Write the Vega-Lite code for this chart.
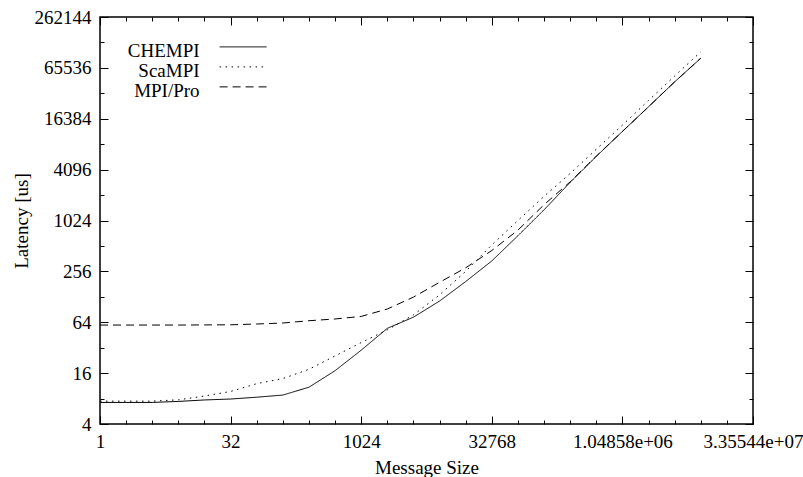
{
  "$schema": "https://vega.github.io/schema/vega-lite/v6.json",
  "width": 653,
  "height": 407,
  "autosize": {"type": "none"},
  "padding": {"left": 100, "top": 17, "right": 50, "bottom": 53},
  "background": "white",
  "data": {"values": [
    {"size": 1, "latency": 7.2, "impl": "CHEMPI"},
    {"size": 2, "latency": 7.2, "impl": "CHEMPI"},
    {"size": 4, "latency": 7.2, "impl": "CHEMPI"},
    {"size": 8, "latency": 7.4, "impl": "CHEMPI"},
    {"size": 16, "latency": 7.7, "impl": "CHEMPI"},
    {"size": 32, "latency": 7.9, "impl": "CHEMPI"},
    {"size": 64, "latency": 8.3, "impl": "CHEMPI"},
    {"size": 128, "latency": 8.8, "impl": "CHEMPI"},
    {"size": 256, "latency": 10.9, "impl": "CHEMPI"},
    {"size": 512, "latency": 17.1, "impl": "CHEMPI"},
    {"size": 1024, "latency": 29.9, "impl": "CHEMPI"},
    {"size": 2048, "latency": 54.2, "impl": "CHEMPI"},
    {"size": 4096, "latency": 73.5, "impl": "CHEMPI"},
    {"size": 8192, "latency": 114, "impl": "CHEMPI"},
    {"size": 16384, "latency": 194, "impl": "CHEMPI"},
    {"size": 32768, "latency": 340, "impl": "CHEMPI"},
    {"size": 65536, "latency": 676, "impl": "CHEMPI"},
    {"size": 131072, "latency": 1370, "impl": "CHEMPI"},
    {"size": 262144, "latency": 2896, "impl": "CHEMPI"},
    {"size": 524288, "latency": 5872, "impl": "CHEMPI"},
    {"size": 1048576, "latency": 11585, "impl": "CHEMPI"},
    {"size": 2097152, "latency": 22690, "impl": "CHEMPI"},
    {"size": 4194304, "latency": 44760, "impl": "CHEMPI"},
    {"size": 8388608, "latency": 85270, "impl": "CHEMPI"},
    {"size": 1, "latency": 7.46, "impl": "ScaMPI"},
    {"size": 2, "latency": 7.46, "impl": "ScaMPI"},
    {"size": 4, "latency": 7.46, "impl": "ScaMPI"},
    {"size": 8, "latency": 7.73, "impl": "ScaMPI"},
    {"size": 16, "latency": 8.57, "impl": "ScaMPI"},
    {"size": 32, "latency": 9.71, "impl": "ScaMPI"},
    {"size": 64, "latency": 12.0, "impl": "ScaMPI"},
    {"size": 128, "latency": 13.8, "impl": "ScaMPI"},
    {"size": 256, "latency": 17.75, "impl": "ScaMPI"},
    {"size": 512, "latency": 25.6, "impl": "ScaMPI"},
    {"size": 1024, "latency": 36.8, "impl": "ScaMPI"},
    {"size": 2048, "latency": 52, "impl": "ScaMPI"},
    {"size": 4096, "latency": 78.2, "impl": "ScaMPI"},
    {"size": 8192, "latency": 135, "impl": "ScaMPI"},
    {"size": 16384, "latency": 256, "impl": "ScaMPI"},
    {"size": 32768, "latency": 526, "impl": "ScaMPI"},
    {"size": 65536, "latency": 1024, "impl": "ScaMPI"},
    {"size": 131072, "latency": 1978, "impl": "ScaMPI"},
    {"size": 262144, "latency": 3691, "impl": "ScaMPI"},
    {"size": 524288, "latency": 7132, "impl": "ScaMPI"},
    {"size": 1048576, "latency": 13777, "impl": "ScaMPI"},
    {"size": 2097152, "latency": 26974, "impl": "ScaMPI"},
    {"size": 4194304, "latency": 52470, "impl": "ScaMPI"},
    {"size": 8388608, "latency": 101400, "impl": "ScaMPI"},
    {"size": 1, "latency": 59.3, "impl": "MPI/Pro"},
    {"size": 2, "latency": 59.3, "impl": "MPI/Pro"},
    {"size": 4, "latency": 59.3, "impl": "MPI/Pro"},
    {"size": 8, "latency": 59.3, "impl": "MPI/Pro"},
    {"size": 16, "latency": 59.5, "impl": "MPI/Pro"},
    {"size": 32, "latency": 59.7, "impl": "MPI/Pro"},
    {"size": 64, "latency": 61, "impl": "MPI/Pro"},
    {"size": 128, "latency": 62.7, "impl": "MPI/Pro"},
    {"size": 256, "latency": 66.7, "impl": "MPI/Pro"},
    {"size": 512, "latency": 70, "impl": "MPI/Pro"},
    {"size": 1024, "latency": 75, "impl": "MPI/Pro"},
    {"size": 2048, "latency": 91.8, "impl": "MPI/Pro"},
    {"size": 4096, "latency": 127, "impl": "MPI/Pro"},
    {"size": 8192, "latency": 190, "impl": "MPI/Pro"},
    {"size": 16384, "latency": 282, "impl": "MPI/Pro"},
    {"size": 32768, "latency": 452, "impl": "MPI/Pro"},
    {"size": 65536, "latency": 787, "impl": "MPI/Pro"},
    {"size": 131072, "latency": 1574, "impl": "MPI/Pro"},
    {"size": 262144, "latency": 2936, "impl": "MPI/Pro"},
    {"size": 524288, "latency": 5913, "impl": "MPI/Pro"},
    {"size": 1048576, "latency": 11585, "impl": "MPI/Pro"},
    {"size": 2097152, "latency": 22690, "impl": "MPI/Pro"},
    {"size": 4194304, "latency": 44760, "impl": "MPI/Pro"},
    {"size": 8388608, "latency": 85270, "impl": "MPI/Pro"}
  ]},
  "resolve": {"axis": {"x": "independent", "y": "independent"}},
  "layer": [
    {
      "mark": {"type": "line", "color": "black", "strokeWidth": 1, "clip": true},
      "encoding": {
        "x": {"field": "size", "type": "quantitative",
          "scale": {"type": "log", "base": 2, "domain": [1, 33554432], "nice": false},
          "axis": {"orient": "bottom", "values": [1, 32, 1024, 32768, 1048576, 33554432], "tickSize": -8, "labelPadding": 16, "title": "Message Size", "titlePadding": 7,
            "labelExpr": "datum.value == 1048576 ? '1.04858e+06' : datum.value == 33554432 ? '3.35544e+07' : format(datum.value, 'd')"}},
        "y": {"field": "latency", "type": "quantitative",
          "scale": {"type": "log", "base": 2, "domain": [4, 262144], "nice": false},
          "axis": {"orient": "left", "values": [4, 16, 64, 256, 1024, 4096, 16384, 65536, 262144], "tickSize": -8, "labelPadding": 17, "title": "Latency [us]", "titlePadding": 3, "format": "d"}},
        "strokeDash": {"field": "impl", "type": "nominal",
          "scale": {"domain": ["CHEMPI", "ScaMPI", "MPI/Pro"], "range": [[1, 0], [1.5, 4.5], [8, 5]]},
          "legend": {"orient": "none", "legendX": 133.6, "legendY": 24.5, "title": null, "symbolType": "M-4,-0.7H4", "symbolSize": 138, "symbolStrokeWidth": 1, "symbolStrokeColor": "black", "symbolFillColor": "transparent", "labelAlign": "right", "labelOffset": -53, "labelBaseline": "middle", "rowPadding": -2, "padding": 0, "labelFont": "Liberation Serif", "labelFontSize": 19, "labelColor": "black", "labelLimit": 300}}
      }
    },
    {
      "mark": {"type": "line", "opacity": 0},
      "encoding": {
        "x": {"field": "size", "type": "quantitative", "scale": {"type": "log", "base": 2, "domain": [1, 33554432], "nice": false},
          "axis": {"orient": "bottom", "values": [2, 4, 8, 16, 64, 128, 256, 512, 2048, 4096, 8192, 16384, 65536, 131072, 262144, 524288, 2097152, 4194304, 8388608, 16777216], "tickSize": -4, "labels": false, "title": null}},
        "y": {"field": "latency", "type": "quantitative", "scale": {"type": "log", "base": 2, "domain": [4, 262144], "nice": false},
          "axis": {"orient": "left", "values": [8, 32, 128, 512, 2048, 8192, 32768, 131072], "tickSize": -4, "labels": false, "title": null}}
      }
    },
    {
      "mark": {"type": "line", "opacity": 0},
      "encoding": {
        "x": {"field": "size", "type": "quantitative", "scale": {"type": "log", "base": 2, "domain": [1, 33554432], "nice": false},
          "axis": {"orient": "top", "values": [1, 32, 1024, 32768, 1048576, 33554432], "tickSize": -8, "labels": false, "title": null}},
        "y": {"field": "latency", "type": "quantitative", "scale": {"type": "log", "base": 2, "domain": [4, 262144], "nice": false},
          "axis": {"orient": "right", "values": [4, 16, 64, 256, 1024, 4096, 16384, 65536, 262144], "tickSize": -8, "labels": false, "title": null}}
      }
    },
    {
      "mark": {"type": "line", "opacity": 0},
      "encoding": {
        "x": {"field": "size", "type": "quantitative", "scale": {"type": "log", "base": 2, "domain": [1, 33554432], "nice": false},
          "axis": {"orient": "top", "values": [2, 4, 8, 16, 64, 128, 256, 512, 2048, 4096, 8192, 16384, 65536, 131072, 262144, 524288, 2097152, 4194304, 8388608, 16777216], "tickSize": -4, "labels": false, "title": null}},
        "y": {"field": "latency", "type": "quantitative", "scale": {"type": "log", "base": 2, "domain": [4, 262144], "nice": false},
          "axis": {"orient": "right", "values": [8, 32, 128, 512, 2048, 8192, 32768, 131072], "tickSize": -4, "labels": false, "title": null}}
      }
    }
  ],
  "config": {
    "view": {"stroke": "black", "strokeWidth": 1.5},
    "axis": {"grid": false, "domain": false, "labelFont": "Liberation Serif", "titleFont": "Liberation Serif", "labelFontSize": 19, "titleFontSize": 19, "titleFontWeight": "normal", "labelColor": "black", "titleColor": "black", "tickColor": "black", "tickWidth": 1, "labelOverlap": false, "labelFlush": false}
  }
}
